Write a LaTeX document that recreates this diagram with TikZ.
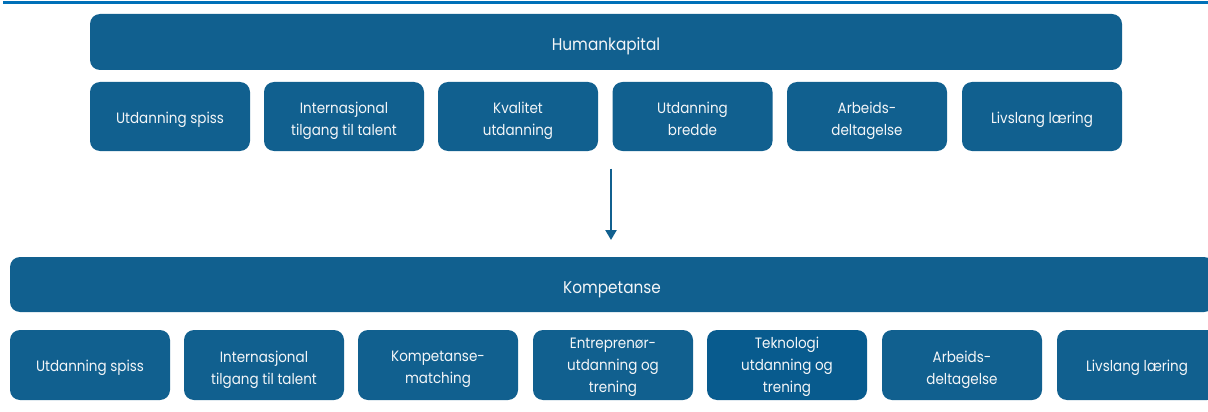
\documentclass[tikz,border=0pt]{standalone}
\usepackage{fontspec}
\setmainfont{Poppins}[FakeStretch=0.9]
\usetikzlibrary{arrows.meta}
\definecolor{boxblue}{HTML}{11608F}
\definecolor{boxblueb}{HTML}{085B8E}
\definecolor{topline}{HTML}{0070B8}
\definecolor{txtwhite}{HTML}{F4F6F8}
\tikzset{
  box/.style={draw=none, fill=boxblue, rounded corners=10pt, inner sep=0pt},
  small/.style={box, minimum width=160pt, minimum height=69pt},
  smallb/.style={box, minimum width=160pt, minimum height=70pt},
  bar/.style={box},
  lbl/.style={text=txtwhite, align=center, inner sep=0pt, yshift=-2.4pt,
    font=\fontsize{15}{22}\selectfont,
    execute at begin node=\strut, execute at end node=\strut},
  lbltwo/.style={lbl, yshift=-3.2pt},
  lblthree/.style={lbl, yshift=-0.8pt},
  barlbl/.style={lbl, yshift=-2.2pt, font=\fontsize{17}{22}\selectfont},
}
\begin{document}
\begin{tikzpicture}[x=1pt,y=-1pt]
\useasboundingbox (0,0) rectangle (1208,412);
\clip (0,0) rectangle (1208,412);
\fill[topline] (3,1) rectangle (1208,4);
\node[bar, minimum width=1032pt, minimum height=56pt, label={[barlbl]center:{Humankapital}}] (hk) at (606,42) {};
\node[small, label={[lbl]center:{Utdanning spiss}}] (h1) at (170,116.5) {};
\node[small, label={[lbltwo]center:{Internasjonal\\tilgang til talent}}] (h2) at (344,116.5) {};
\node[small, label={[lbltwo]center:{Kvalitet\\utdanning}}] (h3) at (518,116.5) {};
\node[small, label={[lbltwo]center:{Utdanning\\bredde}}] (h4) at (692.5,116.5) {};
\node[small, label={[lbltwo]center:{Arbeids-\\deltagelse}}] (h5) at (867,116.5) {};
\node[small, label={[lbl]center:{Livslang læring}}] (h6) at (1042,116.5) {};
\coordinate (a1) at (611,168.5);
\coordinate (a2) at (611,240);
\draw[boxblue, line width=2.3pt, -{Triangle[length=10pt,width=11pt]}] (a1) -- (a2);
\node[bar, minimum width=1204pt, minimum height=55pt, label={[barlbl]center:{Kompetanse}}] (ko) at (612,284.5) {};
\node[smallb, label={[lbl]center:{Utdanning spiss}}] (k1) at (90,365) {};
\node[smallb, label={[lbltwo]center:{Internasjonal\\tilgang til talent}}] (k2) at (264,365) {};
\node[smallb, label={[lbltwo]center:{Kompetanse-\\matching}}] (k3) at (438,365) {};
\node[smallb, label={[lblthree]center:{Entreprenør-\\utdanning og\\trening}}] (k4) at (613,365) {};
\node[smallb, fill=boxblueb, label={[lblthree]center:{Teknologi\\utdanning og\\trening}}] (k5) at (787,365) {};
\node[smallb, label={[lbltwo]center:{Arbeids-\\deltagelse}}] (k6) at (962,365) {};
\node[smallb, label={[lbl]center:{Livslang læring}}] (k7) at (1137,365) {};
\end{tikzpicture}
\end{document}
